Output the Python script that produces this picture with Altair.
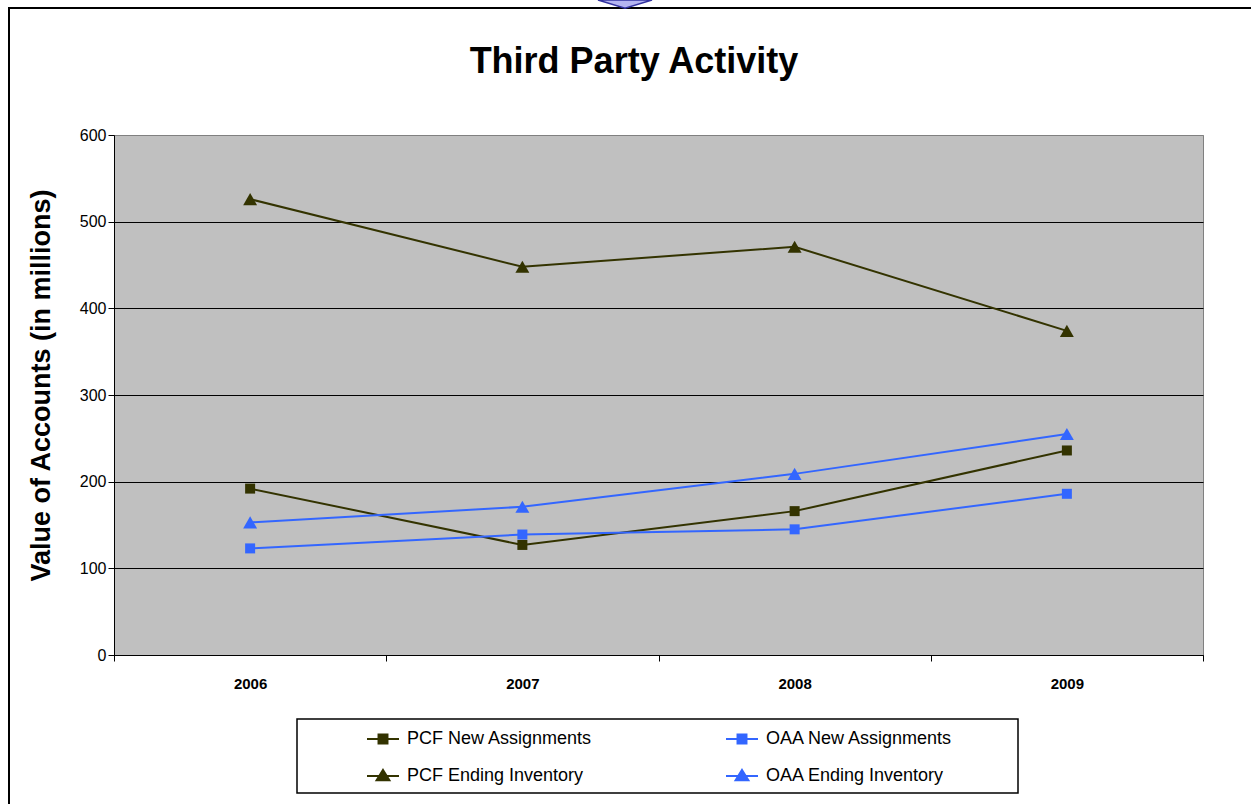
import altair as alt
import pandas as pd

# Yearly values, in millions of dollars
years = [2006, 2007, 2008, 2009]
pcf_new = [192, 127, 166, 236]
oaa_new = [123, 139, 145, 186]
pcf_end = [526, 448, 471, 374]
oaa_end = [153, 171, 209, 255]

series_names = [
    "PCF New Assignments",
    "OAA New Assignments",
    "PCF Ending Inventory",
    "OAA Ending Inventory",
]
series_values = [pcf_new, oaa_new, pcf_end, oaa_end]
series_colors = ["#333300", "#3366FF", "#333300", "#3366FF"]
square_series = ["PCF New Assignments", "OAA New Assignments"]
triangle_series = ["PCF Ending Inventory", "OAA Ending Inventory"]

rows = []
for name, vals in zip(series_names, series_values):
    for yr, v in zip(years, vals):
        rows.append({"year": yr, "series": name, "value": v})
df = pd.DataFrame(rows)

FONT = "Liberation Sans"
W, H = 1089, 520
LEFT, TOP = 114, 135

x_scale = alt.Scale(domain=[2005.5, 2009.5], nice=False, zero=False)
y_scale = alt.Scale(domain=[0, 600], nice=False)
color_scale = alt.Scale(domain=series_names, range=series_colors)

x_main = alt.X(
    "year:Q",
    scale=x_scale,
    axis=alt.Axis(
        orient="bottom",
        values=years,
        format="d",
        ticks=False,
        grid=False,
        domainColor="#000000",
        domainWidth=1,
        labelFont=FONT,
        labelFontSize=15,
        labelFontWeight="bold",
        labelColor="#000000",
        labelPadding=21,
        title=None,
    ),
)
x_plain = alt.X("year:Q", scale=x_scale, axis=None)

y_enc = alt.Y(
    "value:Q",
    scale=y_scale,
    axis=alt.Axis(
        values=[0, 100, 200, 300, 400, 500, 600],
        grid=True,
        gridColor={"condition": {"test": "datum.value == 600", "value": "#808080"}, "value": "#000000"},
        gridWidth=1,
        domainColor="#000000",
        tickColor="#000000",
        tickSize=6,
        labelFont=FONT,
        labelFontSize=16,
        labelColor="#000000",
        labelPadding=2,
        title="Value of Accounts (in millions)",
        titleFont=FONT,
        titleFontSize=27,
        titleFontWeight="bold",
        titleColor="#000000",
        titlePadding=24,
        titleY=250,
    ),
)
y_plain = alt.Y("value:Q", scale=y_scale, axis=None)

lines = alt.Chart(df).mark_line(strokeWidth=2).encode(
    x=x_main,
    y=y_enc,
    color=alt.Color("series:N", scale=color_scale, legend=None),
    detail="series:N",
)

# Category boundary ticks along the bottom axis
tick_axis = alt.X(
    "year:Q",
    scale=x_scale,
    axis=alt.Axis(
        orient="bottom",
        values=[2005.5, 2006.5, 2007.5, 2008.5, 2009.5],
        labels=False,
        domain=False,
        grid=False,
        ticks=True,
        tickSize=6,
        tickColor="#000000",
        title=None,
    ),
)

squares = alt.Chart(df).transform_filter(
    alt.FieldOneOfPredicate(field="series", oneOf=square_series)
).mark_point(shape="square", filled=True, size=100, opacity=1).encode(
    x=tick_axis,
    y=y_plain,
    color=alt.Color("series:N", scale=color_scale, legend=None),
)

triangles = alt.Chart(df).transform_filter(
    alt.FieldOneOfPredicate(field="series", oneOf=triangle_series)
).mark_point(shape="triangle-up", filled=True, size=195, opacity=1).encode(
    x=x_plain,
    y=y_plain,
    color=alt.Color("series:N", scale=color_scale, legend=None),
)

# Legend symbols: a short line with the series marker on it
sq_path = "M-1,0H1M-0.28,-0.28H0.28V0.28H-0.28Z"
tri_path = "M-1,0H1M0,-0.38L0.4,0.27H-0.4Z"
legend_def = alt.Legend(
    title=None,
    orient="none",
    legendX=252,
    legendY=587,
    direction="horizontal",
    columns=2,
    columnPadding=129,
    rowPadding=11,
    symbolSize=1024,
    symbolStrokeWidth=2,
    labelFont=FONT,
    labelFontSize=18,
    labelColor="#000000",
    labelOffset=7,
    labelLimit=400,
    padding=0,
)
legend_layer = alt.Chart(df).transform_filter("false").mark_point(
    filled=False, strokeWidth=2, opacity=1
).encode(
    x=x_plain,
    y=y_plain,
    color=alt.Color("series:N", scale=color_scale, legend=legend_def),
    fill=alt.Fill("series:N", scale=alt.Scale(domain=series_names, range=series_colors), legend=legend_def),
    shape=alt.Shape(
        "series:N",
        scale=alt.Scale(domain=series_names, range=[sq_path, sq_path, tri_path, tri_path]),
        legend=legend_def,
    ),
)

one = alt.Data(values=[{}])

legend_box = alt.Chart(one).mark_rect(
    fill="#FFFFFF", stroke="#000000", strokeWidth=1.5
).encode(
    x=alt.value(297 - LEFT), x2=alt.value(1018 - LEFT),
    y=alt.value(719 - TOP), y2=alt.value(793 - TOP),
)

frame_left = alt.Chart(one).mark_rule(color="#000000", strokeWidth=2).encode(
    x=alt.value(9 - LEFT), y=alt.value(7 - TOP), y2=alt.value(804 - TOP)
)
frame_top = alt.Chart(one).mark_rule(color="#000000", strokeWidth=2).encode(
    x=alt.value(8 - LEFT), x2=alt.value(1251 - LEFT), y=alt.value(8 - TOP)
)

arrow = alt.Chart(one).mark_point(
    shape="M-1,-1L0,-0.7L1,-1Z", size=2916, filled=True,
    fill="#B4B4F0", stroke="#3232A0", strokeWidth=1.5, opacity=1,
).encode(x=alt.value(625 - LEFT), y=alt.value(27 - TOP))

title = alt.Chart(one).mark_text(
    text="Third Party Activity", font=FONT, fontSize=36, fontWeight="bold",
    color="#000000", align="center", baseline="alphabetic",
).encode(x=alt.value(634 - LEFT), y=alt.value(73 - TOP))

chart = alt.layer(
    legend_box, frame_left, frame_top, arrow, title,
    lines, squares, triangles, legend_layer,
).resolve_axis(
    x="independent", y="independent"
).resolve_legend(
    color="independent", fill="independent", shape="independent"
).properties(
    width=W,
    height=H,
    autosize=alt.AutoSizeParams(type="none"),
    padding={"left": LEFT, "top": TOP, "right": 1251 - LEFT - W, "bottom": 804 - TOP - H},
    background="#FFFFFF",
).configure_view(
    fill="#C0C0C0", stroke="#808080", strokeWidth=1
)

chart.save("out.html", embed_options={"renderer": "svg", "actions": False})
